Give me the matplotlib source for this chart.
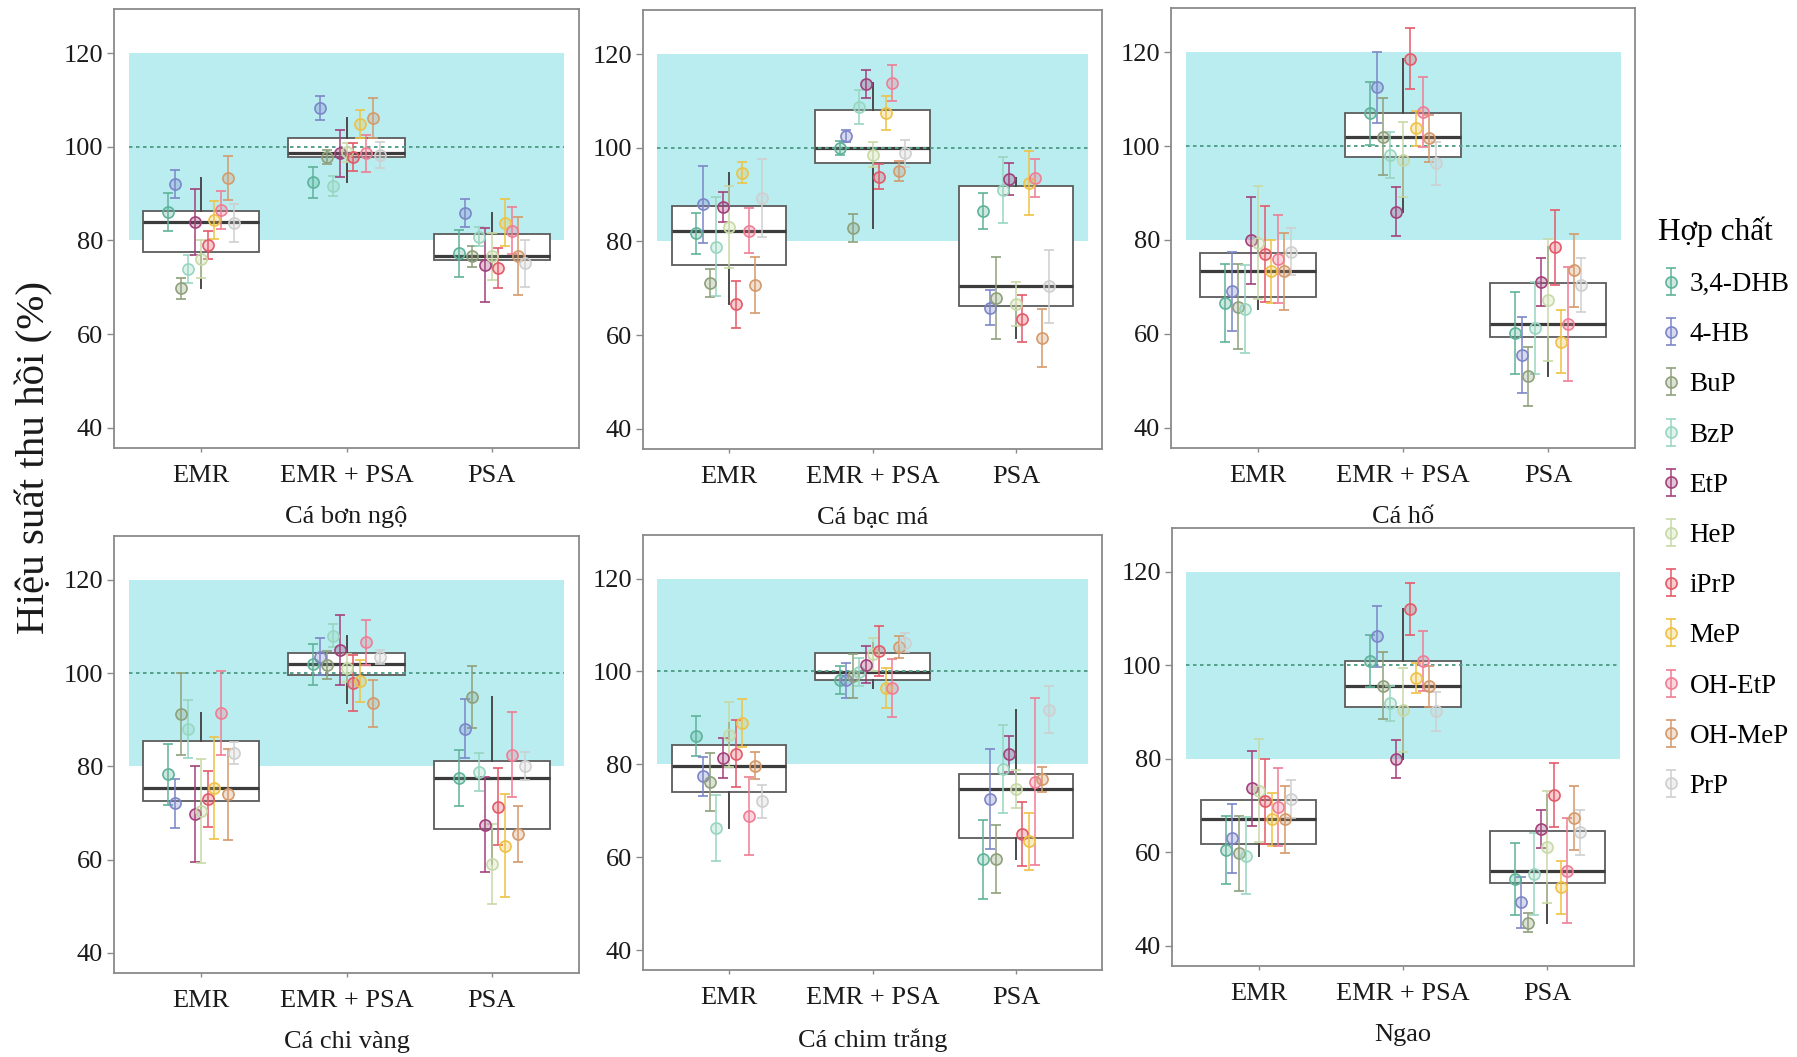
import numpy as np
import matplotlib.pyplot as plt
from matplotlib.colors import to_rgba

plt.rcParams['font.family'] = ['Liberation Serif', 'DejaVu Serif']

compounds = ['3,4-DHB', '4-HB', 'BuP', 'BzP', 'EtP', 'HeP', 'iPrP', 'MeP',
             'OH-EtP', 'OH-MeP', 'PrP']
colors = ['#5fb39a', '#7c86c8', '#8fa07c', '#98d6c0', '#a3427c', '#c7d9a6',
          '#e45a68', '#eec247', '#f07d94', '#d49a6c', '#cfcfcf']
methods = ['EMR', 'EMR + PSA', 'PSA']
matrices = ['Cá bơn ngộ', 'Cá bạc má', 'Cá hố',
            'Cá chi vàng', 'Cá chim trắng', 'Ngao']

# mean recovery (%) for each compound, one row per method (EMR, EMR + PSA, PSA)
bon_ngo_mean = [[86.1, 92.0, 69.8, 73.9, 84.0, 76.0, 79.0, 84.4, 86.5, 93.3, 83.7],
                [92.4, 108.3, 97.9, 91.6, 98.6, 98.8, 97.9, 104.8, 98.6, 106.2, 98.2],
                [77.3, 85.9, 76.6, 80.8, 74.8, 76.6, 74.1, 83.8, 82.1, 76.7, 75.1]]
bon_ngo_sd = [[4.0, 3.0, 2.2, 3.0, 7.0, 4.0, 3.0, 4.0, 4.0, 4.7, 4.0],
              [3.3, 2.5, 1.5, 2.2, 5.0, 2.0, 3.0, 3.0, 4.0, 4.3, 2.8],
              [5.0, 3.0, 2.3, 2.0, 7.9, 5.0, 4.3, 5.0, 5.0, 8.4, 5.0]]

bac_ma_mean = [[81.7, 87.9, 71.2, 78.9, 87.4, 83.1, 66.6, 94.7, 82.3, 70.7, 89.2],
               [99.9, 102.5, 82.8, 108.7, 113.7, 98.5, 93.8, 107.4, 113.8, 95.0, 98.8],
               [86.5, 65.9, 67.9, 91.0, 93.3, 66.6, 63.5, 92.5, 93.5, 59.4, 70.4]]
bac_ma_sd = [[4.3, 8.2, 3.0, 10.5, 3.2, 8.7, 5.0, 2.2, 4.8, 5.9, 8.3],
             [1.5, 1.3, 3.0, 3.6, 3.0, 2.7, 2.7, 3.6, 3.9, 2.2, 2.9],
             [3.9, 3.8, 8.7, 7.0, 3.4, 4.7, 5.0, 6.9, 4.1, 6.2, 7.7]]

ho_mean = [[66.5, 69.1, 65.8, 65.3, 79.9, 79.4, 77.0, 73.3, 75.9, 73.3, 77.5],
           [107.0, 112.5, 102.0, 98.1, 86.0, 97.1, 118.6, 103.8, 107.2, 101.7, 96.3],
           [60.2, 55.5, 51.0, 61.3, 71.1, 67.2, 78.4, 58.3, 62.1, 73.5, 70.4]]
ho_sd = [[8.3, 8.4, 9.0, 9.4, 9.3, 12.0, 10.3, 6.7, 9.4, 8.2, 5.0],
         [6.7, 7.6, 8.2, 5.0, 5.2, 8.0, 6.5, 3.7, 7.5, 5.0, 4.6],
         [8.7, 8.0, 6.3, 9.8, 5.1, 13.0, 7.9, 6.7, 12.1, 7.8, 5.8]]

chi_vang_mean = [[78.3, 72.1, 91.3, 88.0, 69.8, 70.4, 73.0, 75.4, 91.5, 74.0, 82.9],
                 [101.9, 103.5, 101.8, 108.0, 105.0, 101.0, 97.8, 98.4, 106.6, 93.5, 103.4],
                 [77.6, 88.1, 94.9, 78.8, 67.5, 59.1, 71.4, 63.0, 82.5, 65.5, 80.0]]
chi_vang_sd = [[6.5, 5.3, 8.8, 6.3, 10.3, 11.2, 6.0, 11.0, 9.0, 9.7, 2.4],
               [4.4, 4.0, 3.0, 2.5, 7.5, 3.0, 6.0, 4.5, 4.8, 5.0, 1.5],
               [6.0, 6.3, 6.6, 4.1, 10.2, 8.5, 8.2, 11.0, 9.1, 6.1, 3.0]]

chim_trang_mean = [[86.2, 77.4, 76.2, 66.3, 81.4, 86.4, 82.3, 88.9, 68.8, 79.7, 72.0],
                   [98.1, 98.1, 99.0, 99.9, 101.5, 103.7, 104.4, 96.5, 96.5, 105.3, 106.2],
                   [59.6, 72.5, 59.6, 79.0, 82.3, 74.7, 65.0, 63.4, 76.3, 76.8, 91.8]]
chim_trang_sd = [[4.3, 4.2, 6.3, 7.2, 4.3, 7.0, 7.2, 5.2, 8.4, 2.9, 3.6],
                 [3.0, 3.8, 4.7, 3.0, 4.0, 3.5, 5.3, 4.3, 6.2, 2.3, 2.0],
                 [8.5, 10.8, 7.3, 9.4, 3.9, 4.0, 6.8, 6.1, 18.0, 2.7, 5.1]]

ngao_mean = [[60.5, 63.0, 59.8, 59.3, 73.7, 73.2, 70.9, 67.1, 69.7, 67.1, 71.4],
             [100.9, 106.2, 95.7, 91.9, 80.0, 90.5, 112.1, 97.3, 100.9, 95.5, 90.2],
             [54.3, 49.3, 45.0, 55.4, 65.0, 61.1, 72.3, 52.5, 56.1, 67.3, 64.3]]
ngao_sd = [[7.2, 7.3, 8.0, 8.2, 8.1, 11.0, 9.0, 5.7, 8.4, 7.2, 4.1],
           [5.6, 6.5, 7.2, 3.7, 4.1, 9.0, 5.6, 3.2, 6.4, 4.3, 4.2],
           [7.7, 5.5, 2.0, 8.8, 4.0, 12.0, 6.8, 5.7, 11.2, 6.8, 4.8]]

panel_means = [bon_ngo_mean, bac_ma_mean, ho_mean, chi_vang_mean, chim_trang_mean, ngao_mean]
panel_sds = [bon_ngo_sd, bac_ma_sd, ho_sd, chi_vang_sd, chim_trang_sd, ngao_sd]

W, H = 1797, 1057
fig = plt.figure(figsize=(W / 100, H / 100), dpi=100)

# panel frames in pixels: left, top, right, bottom
frames = [(114, 9, 579, 448), (643, 10, 1102, 449), (1171, 8, 1635, 448),
          (114, 536, 579, 973), (643, 535, 1102, 970), (1172, 528, 1634, 966)]

pos = np.arange(1, 4)
dodge = (np.arange(11) - 5) * 0.5 / 11
frame_col = '#8a8a8a'
handles = []

for k in range(6):
    l, t, r, b = frames[k]
    ax = fig.add_axes([l / W, 1 - b / H, (r - l) / W, (b - t) / H])
    means = np.array(panel_means[k])
    sds = np.array(panel_sds[k])

    # acceptable recovery band and 100 % reference
    ax.fill_between([0.5, 3.5], 80, 120, color='#b9edf0', lw=0, zorder=0)

    ax.boxplot([means[0], means[1], means[2]], positions=pos, widths=0.8,
               whis=1.5, showfliers=False, showcaps=False, patch_artist=True,
               boxprops=dict(facecolor='white', edgecolor='#5c5c5c', lw=1.3),
               medianprops=dict(color='#3c3c3c', lw=2.3),
               whiskerprops=dict(color='#4a4a4a', lw=1.4), zorder=1)

    ax.plot([0.5, 3.5], [100, 100], color='#55a08a', lw=1.4,
            ls=(0, (1.8, 1.8)), zorder=1.5)

    for i in range(11):
        c = colors[i]
        eb = ax.errorbar(pos + dodge[i], means[:, i], yerr=sds[:, i], fmt='o',
                         ms=8, mec=c, mfc=to_rgba(c, 0.3), mew=1.2,
                         ecolor=c, elinewidth=1.1, capsize=3.6, capthick=1.1,
                         zorder=3)
        if k == 0:
            handles.append(eb)

    ax.set_xlim(0.4, 3.6)
    ax.set_ylim(35.7, 129.4)
    ax.set_yticks([40, 60, 80, 100, 120])
    ax.set_xticks(pos)
    ax.set_xticklabels(methods)
    ax.set_xlabel(matrices[k], fontsize=19, labelpad=14, color='#1a1a1a')
    for s in ax.spines.values():
        s.set_color(frame_col)
        s.set_linewidth(1.3)
    ax.tick_params(axis='both', labelsize=19, colors=frame_col,
                   labelcolor='#1a1a1a', width=1.0)
    ax.tick_params(axis='y', length=5, pad=3)
    ax.tick_params(axis='x', length=3, pad=9)

fig.text(34 / W, 1 - 458 / H, 'Hiệu suất thu hồi (%)', rotation=90,
         ha='center', va='center', fontsize=29.5, color='#1a1a1a')

fig.legend(handles, compounds, title='Hợp chất', loc='upper left',
           bbox_to_anchor=(1634 / W, 1 - 192 / H), frameon=False,
           fontsize=19.5, title_fontsize=22.5, labelspacing=0.93,
           handlelength=0.9, handletextpad=0.25, alignment='left')

fig.savefig('out.png', dpi=100)
